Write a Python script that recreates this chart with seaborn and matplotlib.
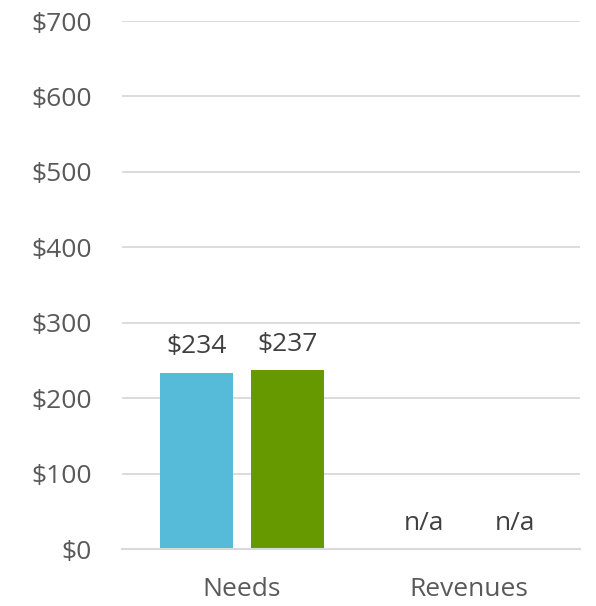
import numpy as np
import pandas as pd
import matplotlib
matplotlib.use("Agg")
import matplotlib.pyplot as plt
import seaborn as sns

categories = ["Needs", "Revenues"]
series_names = ["Series A", "Series B"]
series_a = [234, np.nan]
series_b = [237, np.nan]
y_ticks = [0, 100, 200, 300, 400, 500, 600, 700]
colors = ["#56BBD9", "#669900"]

sns.set_theme(style="white")
plt.rcParams['font.family'] = ['Open Sans', 'DejaVu Sans']

rows = []
for c, a, b in zip(categories, series_a, series_b):
    rows.append({"cat": c, "series": series_names[0], "val": a})
    rows.append({"cat": c, "series": series_names[1], "val": b})
df = pd.DataFrame(rows)
df["plot_val"] = df["val"].fillna(0)

fig = plt.figure(figsize=(5.96, 6.06), dpi=100)
ax = fig.add_axes([0.2047, 0.094, 0.768, 0.8713])
sns.barplot(data=df, x="cat", y="plot_val", hue="series", palette=colors,
            width=0.8, gap=0.198, ax=ax, legend=False, saturation=1,
            linewidth=0, edgecolor="none")

for cont, vals in zip(ax.containers, [series_a, series_b]):
    labels = ["n/a" if np.isnan(v) else f"${v:.0f}" for v in vals]
    ax.bar_label(cont, labels=labels, padding=9.5, fontsize=19, color="#404040")

ax.set_ylim(0, 700)
ax.set_yticks(y_ticks)
ax.set_yticklabels([f"${t}" for t in y_ticks])
ax.set_xlim(-0.527, 1.486)
ax.yaxis.grid(True, color="#d9d9d9", linewidth=1.3)
ax.set_axisbelow(True)
for s in ["top", "right", "left"]:
    ax.spines[s].set_visible(False)
ax.spines["bottom"].set_color("#d9d9d9")
ax.spines["bottom"].set_linewidth(1.5)
ax.tick_params(axis="y", labelsize=19, labelcolor="#595959", length=0, pad=22)
ax.tick_params(axis="x", labelsize=19, labelcolor="#595959", length=0, pad=20)
ax.set_xlabel("")
ax.set_ylabel("")

fig.savefig("out.png", dpi=100, facecolor="white")
